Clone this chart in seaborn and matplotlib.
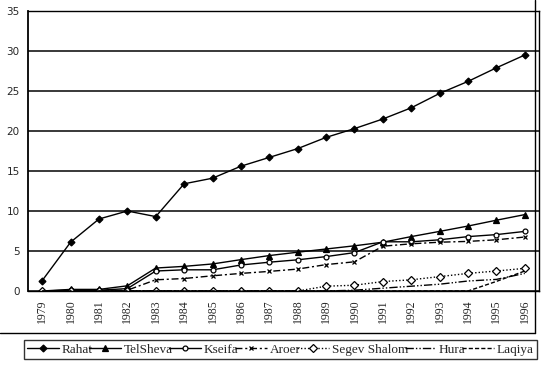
import pandas as pd
import matplotlib.pyplot as plt
import seaborn as sns
from matplotlib.lines import Line2D
from matplotlib.ticker import MultipleLocator

years = list(range(1979, 1997))

rahat = [1.3, 6.1, 9.0, 10.0, 9.3, 13.4, 14.1, 15.6, 16.7, 17.8, 19.2, 20.3, 21.5, 22.9, 24.7, 26.2, 27.9, 29.5]
tel_sheva = [0.0, 0.2, 0.2, 0.65, 2.87, 3.08, 3.38, 3.92, 4.43, 4.85, 5.25, 5.65, 6.1, 6.8, 7.45, 8.12, 8.85, 9.55]
kseifa = [0.0, 0.1, 0.1, 0.3, 2.5, 2.65, 2.65, 3.25, 3.6, 3.9, 4.3, 4.8, 6.15, 6.15, 6.4, 6.8, 7.05, 7.45]
aroer = [0.0, 0.0, 0.0, 0.1, 1.4, 1.56, 1.9, 2.2, 2.45, 2.74, 3.3, 3.65, 5.6, 5.9, 6.1, 6.2, 6.4, 6.75]
segev_shalom = [0.0, 0.0, 0.0, 0.0, 0.0, 0.0, 0.0, 0.0, 0.0, 0.0, 0.6, 0.72, 1.18, 1.4, 1.8, 2.2, 2.5, 2.83]
hura = [0.0, 0.0, 0.0, 0.0, 0.0, 0.0, 0.0, 0.0, 0.0, 0.0, 0.0, 0.1, 0.35, 0.6, 0.85, 1.25, 1.45, 2.2]
laqiya = [0.0, 0.0, 0.0, 0.0, 0.0, 0.0, 0.0, 0.0, 0.0, 0.0, 0.0, 0.0, 0.0, 0.0, 0.0, 0.0, 1.2, 2.5]

series = [
    ("Rahat", rahat, "-", "D", "black", 3.5),
    ("Tel Sheva", tel_sheva, "-", "^", "black", 4.5),
    ("Kseifa", kseifa, "-", "o", "white", 3.5),
    ("Aroer", aroer, (0, (5, 2, 1.5, 2)), "x", "black", 3.5),
    ("Segev Shalom", segev_shalom, (0, (1, 1.5)), "D", "white", 4),
    ("Hura", hura, (0, (6, 1.5, 1, 1.5, 1, 1.5)), None, "black", 0),
    ("Laqiya", laqiya, (0, (3, 1.5)), None, "black", 0),
]

sns.set_style("white")
plt.rcParams["font.family"] = ["Liberation Serif", "DejaVu Serif"]

fig = plt.figure(figsize=(5.46, 3.65), dpi=100)
ax = fig.add_axes([28 / 546, 1 - 291 / 365, (539 - 28) / 546, (291 - 11) / 365])

handles = []
for name, vals, ls, mk, mfc, ms in series:
    df = pd.DataFrame({"year": years, "value": vals})
    sns.lineplot(data=df, x="year", y="value", ax=ax, color="black", linewidth=1.0,
                 linestyle=ls, marker=mk, markersize=ms, markerfacecolor=mfc,
                 markeredgecolor="black", markeredgewidth=0.9)
    handles.append(Line2D([], [], color="black", linewidth=1.0, linestyle=ls, marker=mk,
                          markersize=ms, markerfacecolor=mfc, markeredgecolor="black",
                          markeredgewidth=0.9, label=name.replace("Tel Sheva", "TelSheva")
                          .replace("Segev Shalom", "Segev Shalom")))

ax.set_xlim(1978.5, 1996.5)
ax.set_ylim(0, 35)
ax.set_yticks(range(0, 36, 5))
ax.set_xticks(years)
ax.set_xticklabels([str(y) for y in years], rotation=90, fontsize=8.5)
ax.xaxis.set_minor_locator(MultipleLocator(1))
ax.xaxis.set_minor_locator(plt.FixedLocator([y + 0.5 for y in range(1978, 1996)]))
ax.tick_params(axis="x", which="major", length=0, pad=6)
ax.tick_params(axis="x", which="minor", length=4, width=0.9, direction="out", color="black")
ax.tick_params(axis="y", length=4, width=0.9, direction="out", color="black", pad=2)
for lab in ax.get_yticklabels():
    lab.set_family(["DejaVu Sans"])
    lab.set_fontsize(7.5)
ax.set_xlabel("")
ax.set_ylabel("")
ax.grid(axis="y", color="#2a2a2a", linewidth=1.3)
ax.set_axisbelow(True)
for sp in ax.spines.values():
    sp.set_color("black")
    sp.set_linewidth(1.0)
ax.spines["left"].set_linewidth(1.3)

# chart area border pieces
fig.add_artist(Line2D([535 / 546, 535 / 546], [1, 1 - 333 / 365], color="black", linewidth=1.0))
fig.add_artist(Line2D([0, 535 / 546], [1 - 333 / 365, 1 - 333 / 365], color="black", linewidth=1.0))

leg = fig.legend(handles=handles, loc="lower left", ncol=7,
                 bbox_to_anchor=(24 / 546, 1 - 359 / 365, (537 - 24) / 546, 24 / 365),
                 mode="expand", fontsize=9.5, frameon=True, fancybox=False,
                 handlelength=2.4, handletextpad=0.2, columnspacing=0.3,
                 borderpad=0.25, borderaxespad=0)
leg.get_frame().set_edgecolor("black")
leg.get_frame().set_linewidth(1.0)

fig.savefig("out.png", dpi=100)
